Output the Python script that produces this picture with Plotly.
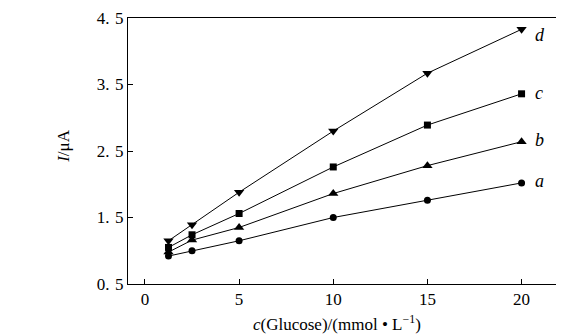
import plotly.graph_objects as go

conc = [1.25, 2.5, 5, 10, 15, 20]
series_a = [0.92, 1.00, 1.15, 1.50, 1.76, 2.02]
series_b = [0.98, 1.16, 1.35, 1.86, 2.28, 2.64]
series_c = [1.05, 1.24, 1.56, 2.26, 2.89, 3.36]
series_d = [1.15, 1.39, 1.88, 2.80, 3.67, 4.33]
labels = ["a", "b", "c", "d"]
label_y = [2.05, 2.67, 3.37, 4.25]
symbols = ["circle", "triangle-up", "square", "triangle-down"]
sizes = [7, 9, 7, 9]
y_tickvals = [0.5, 1.5, 2.5, 3.5, 4.5]
y_ticktext = ["0.\u20045", "1.\u20045", "2.\u20045", "3.\u20045", "4.\u20045"]
x_tickvals = [0, 5, 10, 15, 20]
x_title = "<i>c</i>(Glucose)/(mmol\u00a0•\u00a0L<sup>−1</sup>)"
y_title = "<i>I</i>/μA"

FONT = "Liberation Serif, DejaVu Serif, serif"

fig = go.Figure()
for vals, sym, sz in zip([series_a, series_b, series_c, series_d], symbols, sizes):
    fig.add_trace(go.Scatter(
        x=conc, y=vals, mode="lines+markers",
        line=dict(color="black", width=1),
        marker=dict(symbol=sym, size=sz, color="black"),
        showlegend=False,
    ))

for lab, yv in zip(labels, label_y):
    fig.add_annotation(x=20, y=yv, text=f"<i>{lab}</i>", showarrow=False,
                       xanchor="left", xshift=11, font=dict(size=18, color="black", family=FONT))

fig.add_annotation(xref="paper", yref="paper", x=0.48, y=-0.147, text=x_title,
                   showarrow=False, xanchor="center", yanchor="middle",
                   font=dict(size=17, color="black", family=FONT))
fig.add_annotation(xref="paper", yref="paper", x=-0.149, y=0.52, text=y_title,
                   showarrow=False, xanchor="center", yanchor="middle", textangle=-90,
                   font=dict(size=17, color="black", family=FONT))

fig.update_layout(
    width=564, height=335,
    margin=dict(l=120, r=9, t=10, b=59, autoexpand=False),
    paper_bgcolor="white", plot_bgcolor="white",
    font=dict(family=FONT, size=17, color="black"),
)
fig.update_xaxes(
    range=[-0.9, 22.2], tickvals=x_tickvals, ticks="inside", ticklen=5,
    tickcolor="black", showline=True, linecolor="black", linewidth=1, mirror=True,
    showgrid=False, zeroline=False, tickfont=dict(size=17), automargin=False,
)
fig.update_yaxes(
    range=[0.5, 4.5], tickvals=y_tickvals, ticktext=y_ticktext, ticks="inside", ticklen=5,
    tickcolor="black", showline=True, linecolor="black", linewidth=1, mirror=True,
    showgrid=False, zeroline=False, tickfont=dict(size=17), automargin=False,
)
fig.write_html("out.html")
